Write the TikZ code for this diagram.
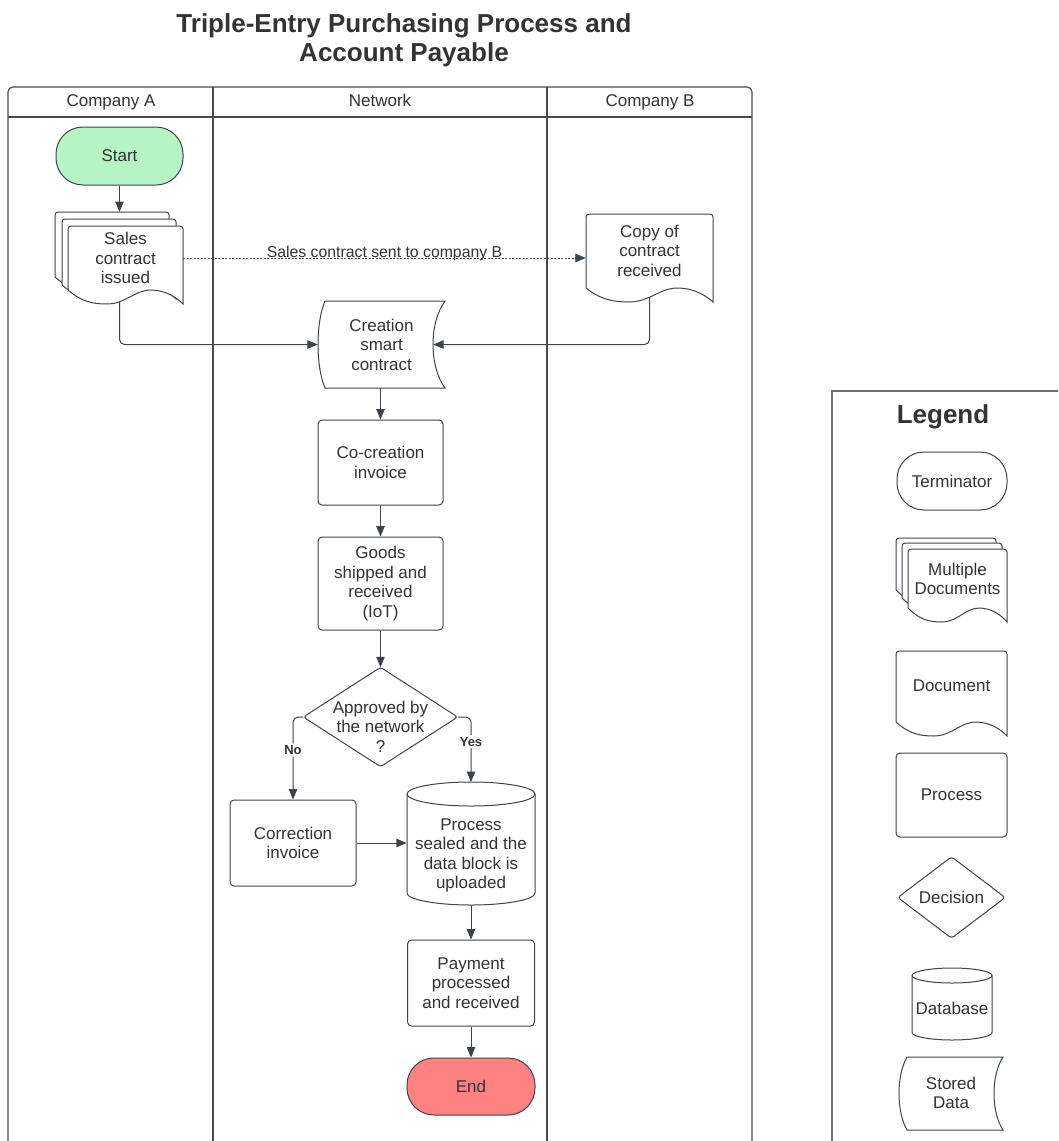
\documentclass[tikz,border=0pt]{standalone}
\usepackage{fontspec}
\setmainfont{Liberation Sans}
\usetikzlibrary{arrows.meta,calc}
\definecolor{ln}{HTML}{3E444C}
\definecolor{lanec}{HTML}{4A4A4A}
\definecolor{legc}{HTML}{6E6E6E}
\definecolor{tx}{HTML}{333333}
\definecolor{startg}{HTML}{B6F5C3}
\definecolor{endr}{HTML}{FF8282}
\pgfdeclarelayer{bg}
\pgfdeclarelayer{shapes}
\pgfsetlayers{bg,shapes,main}
\tikzset{
  txt/.style={font=\fontsize{17}{19.5}\selectfont, text=tx, align=center, inner sep=0pt},
  shp/.style={draw=ln, line width=1pt, fill=white},
  procbox/.style={txt, shp, rounded corners=4pt},
  termbox/.style={txt, shp, rounded corners=27pt},
  ghost/.style={txt, draw=none, fill=none},
  arr/.style={draw=ln, line width=1pt, -{Triangle[length=10.5pt,width=8.5pt]}, rounded corners=5pt},
  lane/.style={draw=lanec, line width=1.2pt},
  hdr/.style={txt, anchor=base},
  lbl/.style={font=\fontsize{15.8}{18}\selectfont, text=tx, inner sep=1pt},
  yn/.style={font=\fontsize{13}{15}\selectfont\bfseries, text=tx, fill=white, inner sep=2pt},
  titlest/.style={font=\fontsize{26}{29}\selectfont\bfseries, text=tx, align=center, inner sep=0pt},
}
% document outline: x0 y0 x1 yb (yb = lower right corner)
\newcommand{\docout}[4]{%
  \pgfmathsetmacro{\dw}{#3-#1}%
  \filldraw[shp] (#1,#4-14) [rounded corners=3pt] -- (#1,#2) -- (#3,#2) [sharp corners] -- (#3,#4)
    .. controls (#1+0.95*\dw,#4-6) and (#1+0.85*\dw,#4-14) .. (#1+0.72*\dw,#4-14)
    .. controls (#1+0.58*\dw,#4-14) and (#1+0.5*\dw,#4) .. (#1+0.34*\dw,#4)
    .. controls (#1+0.22*\dw,#4) and (#1+0.12*\dw,#4-2) .. (#1,#4-14) -- cycle;}
% stored data outline: x0 y0 x1 y1 leftinset rightinset
\newcommand{\storeout}[6]{%
  \pgfmathsetmacro{\sh}{#4-#2}%
  \filldraw[shp] (#1+#5,#2) -- (#3,#2)
    .. controls (#3-#6*4/3,#2+0.25*\sh) and (#3-#6*4/3,#4-0.25*\sh) .. (#3,#4)
    -- (#1+#5,#4)
    .. controls (#1+#5-#5*4/3,#4-0.25*\sh) and (#1+#5-#5*4/3,#2+0.25*\sh) .. (#1+#5,#2) -- cycle;}
% cylinder outline: x0 y0 x1 y1 ry
\newcommand{\cylout}[5]{%
  \pgfmathsetmacro{\rx}{(#3-#1)/2}%
  \filldraw[shp] (#1,#2+#5) -- (#1,#4-#5) arc[start angle=180,end angle=360,x radius=\rx pt,y radius=#5pt]
    -- (#3,#2+#5) arc[start angle=0,end angle=180,x radius=\rx pt,y radius=#5pt] -- cycle;
  \draw[shp, fill=none] (#1,#2+#5) arc[start angle=180,end angle=360,x radius=\rx pt,y radius=#5pt];}

\begin{document}
\begin{tikzpicture}[x=1pt,y=-1pt]
\useasboundingbox (0,0) rectangle (1058,1141);

% swimlanes
\begin{pgfonlayer}{bg}
\fill[white] (0,0) rectangle (1058,1141);
\draw[lane, rounded corners=5pt] (8,1141) -- (8,87) -- (752,87) -- (752,1141);
\draw[lane] (8,117) -- (752,117);
\draw[lane] (213,87) -- (213,1141);
\draw[lane] (547,87) -- (547,1141);
\draw[draw=legc, line width=1.2pt] (1058,391) -- (832,391) -- (832,1141);
\end{pgfonlayer}

% title
\node[titlest] (title) at (404,40) {Triple-Entry Purchasing Process and\\Account Payable};

\node[hdr] (laneA) at (111,106) {Company A};
\node[hdr] (laneN) at (380,106) {Network};
\node[hdr] (laneB) at (650,106) {Company B};

% Start
\node[termbox, fill=startg, minimum width=127pt, minimum height=58pt] (start) at (119.5,156) {Start};

% Sales contract (multiple documents)
\docout{55}{212}{169}{291}
\docout{62}{219}{176}{299}
\docout{68}{226}{183}{304}
\node[ghost, minimum width=115pt, minimum height=64pt] (sales) at (125.5,258) {Sales\\contract\\issued};
\coordinate (salestop) at (119.5,212);
\coordinate (salesbot) at (119.5,292);

% Copy of contract
\docout{586}{214}{713}{302}
\node[ghost, minimum width=127pt, minimum height=73pt] (copy) at (649.5,250.5) {Copy of\\contract\\received};

% Creation smart contract (stored data)
\storeout{318}{301}{445}{388}{7}{12}
\node[ghost, minimum width=127pt, minimum height=87pt] (create) at (381.5,344.5) {Creation\\smart\\contract};

\node[procbox, minimum width=125pt, minimum height=85pt] (cocreate) at (380.5,462.5) {Co-creation\\invoice};
\node[procbox, minimum width=125pt, minimum height=93pt] (goods) at (380.5,583.5) {Goods\\shipped and\\received\\(IoT)};

% decision (text sits below the diamond's centre)
\node[ghost, minimum width=154pt, minimum height=99pt] (dec) at (380.5,726.5) {Approved by\\the network\\?};
\coordinate (decN) at ([yshift=9.5pt]dec.north);
\coordinate (decE) at ([yshift=9.5pt]dec.east);
\coordinate (decS) at ([yshift=9.5pt]dec.south);
\coordinate (decW) at ([yshift=9.5pt]dec.west);
\begin{pgfonlayer}{shapes}
\filldraw[shp, rounded corners=3pt] (decN) -- (decE) -- (decS) -- (decW) -- cycle;
\end{pgfonlayer}

\node[procbox, minimum width=126pt, minimum height=86pt] (corr) at (293,843) {Correction\\invoice};

% database
\cylout{407}{782}{535}{905}{12}
\node[ghost, minimum width=128pt, minimum height=99pt] (db) at (471,855.5) {Process\\sealed and the\\data block is\\uploaded};
\coordinate (dbtop) at (471,782);

\node[procbox, minimum width=127pt, minimum height=86pt] (pay) at (471,983) {Payment\\processed\\and received};
\node[termbox, fill=endr, minimum width=128pt, minimum height=57pt] (end) at (471,1086.5) {End};

% connectors
\begin{pgfonlayer}{bg}
\draw[arr] (start.south) -- (salestop);
\draw[arr, line width=0.8pt, dash pattern=on 2pt off 1.5pt] (sales.east) -- (sales.east -| copy.west)
   node[lbl, midway, above=-4pt] {Sales contract sent to company B};
\draw[arr] (salesbot) |- (create.west);
\draw[arr] (copy.south) |- ([xshift=-12pt]create.east);
\draw[arr] (cocreate.north |- create.south) -- (cocreate.north);
\draw[arr] (cocreate.south) -- (goods.north);
\draw[arr] (goods.south) -- (decN);
\draw[arr] (decW) -| (corr.north) node[yn, pos=0.7] {No};
\draw[arr] (decE) -| (dbtop) node[yn, pos=0.69] {Yes};
\draw[arr] (corr.east) -- (corr.east -| db.west);
\draw[arr] (db.south) -- (pay.north);
\draw[arr] (pay.south) -- (end.north);
\end{pgfonlayer}

% legend
\node[titlest] (legtitle) at (943,417) {Legend};
\node[termbox, minimum width=110pt, minimum height=58pt] (lterm) at (952,481) {Terminator};
\docout{896}{538}{996}{604}
\docout{902}{543}{1002}{612}
\docout{908}{549}{1007}{622}
\node[ghost] (lmulti) at (957.5,579) {Multiple\\Documents};
\docout{896}{651}{1007}{736}
\node[ghost] (ldoc) at (951.5,686) {Document};
\node[procbox, minimum width=111pt, minimum height=84pt] (lproc) at (951.5,795) {Process};
\node[ghost, minimum width=107pt, minimum height=81pt] (ldec) at (951.5,897.5) {Decision};
\begin{pgfonlayer}{shapes}
\filldraw[shp, rounded corners=3pt] (ldec.north) -- (ldec.east) -- (ldec.south) -- (ldec.west) -- cycle;
\end{pgfonlayer}
\cylout{912}{968}{992}{1040}{7.5}
\node[ghost] (ldb) at (952,1008) {Database};
\storeout{899}{1057}{1003}{1130}{8}{9}
\node[ghost] (lstore) at (951,1093) {Stored\\Data};
\end{tikzpicture}
\end{document}
